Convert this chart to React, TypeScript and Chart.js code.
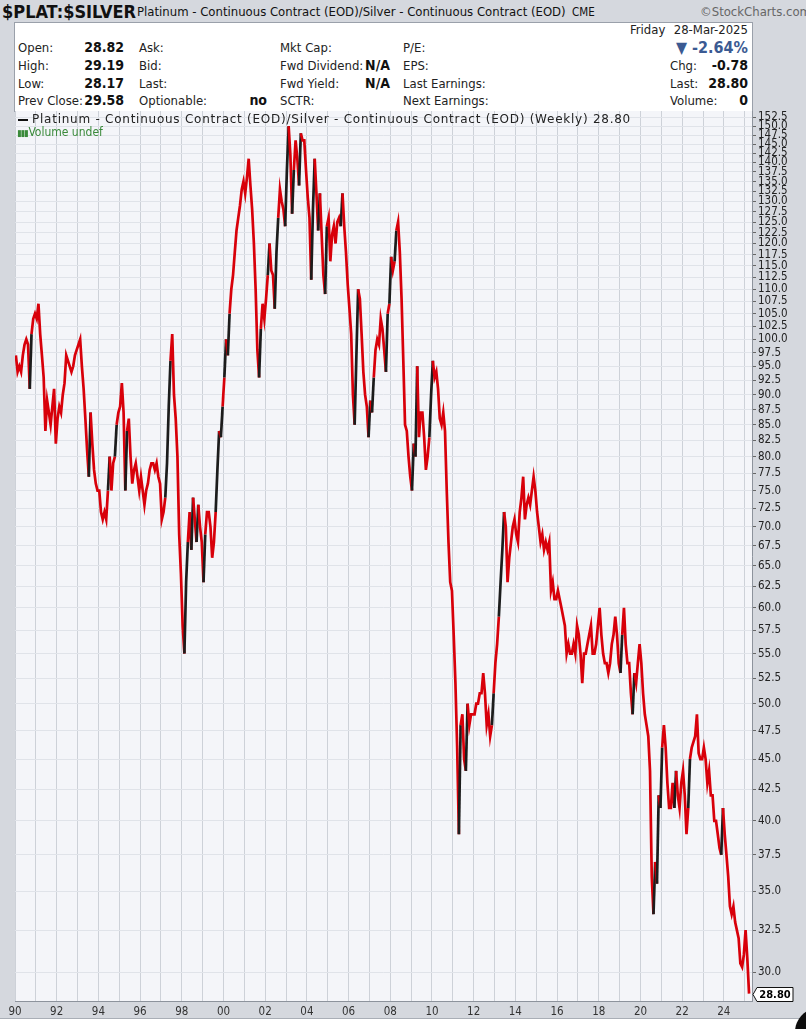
import React, { useEffect, useRef } from "react";
import { Chart, registerables } from "chart.js";

Chart.register(...registerables);

// weekly chart read off as roughly one value per month, Jan..Dec
const FIRST_YEAR = 1990;
const r1990 = [97, 94, 95, 94, 97, 99, 100, 99, 91, 101, 104, 105];
const r1991 = [104, 107, 101, 97, 93, 84, 89, 87, 85, 88, 91, 82];
const r1992 = [86, 88, 87, 90, 92, 97, 96, 95, 94, 95, 97, 98];
const r1993 = [99, 100, 95, 91, 86, 81, 77, 87, 82, 78, 76, 75];
const r1994 = [75, 72, 71, 72, 71, 75, 80, 75, 79, 80, 85, 87];
const r1995 = [88, 92, 87, 75, 84, 86, 80, 76, 78, 79, 77, 75];
const r1996 = [77, 75, 73, 75, 76, 78, 79, 79, 78, 79, 77, 76];
const r1997 = [71, 72, 74, 79, 88, 96, 101, 90, 86, 80, 69, 64];
const r1998 = [58, 55, 63, 68, 72, 67, 74, 71, 68, 73, 70, 68];
const r1999 = [63, 69, 72, 72, 70, 66, 68, 72, 78, 84, 83, 88];
const r2000 = [93, 100, 97, 105, 110, 113, 118, 123, 126, 129, 133, 135];
const r2001 = [132, 136, 141, 134, 128, 120, 110, 98, 93, 102, 107, 104];
const r2002 = [108, 113, 120, 114, 113, 106, 118, 126, 133, 130, 128, 124];
const r2003 = [138, 150, 142, 127, 138, 146, 141, 134, 148, 146, 146, 138];
const r2004 = [131, 126, 112, 128, 141, 132, 123, 132, 122, 113, 109, 124];
const r2005 = [126, 116, 122, 124, 120, 125, 126, 124, 132, 124, 118, 111];
const r2006 = [106, 101, 90, 85, 97, 110, 108, 101, 94, 90, 88, 83];
const r2007 = [89, 87, 93, 98, 100, 99, 104, 102, 98, 94, 105, 107];
const r2008 = [117, 114, 116, 123, 125, 118, 108, 96, 85, 84, 80, 77];
const r2009 = [75, 82, 80, 95, 83, 87, 87, 83, 78, 80, 83, 90];
const r2010 = [96, 93, 94, 91, 86, 85, 87, 84, 75, 68, 63, 62];
const r2011 = [57, 52, 46, 39, 48, 49, 45, 44, 50, 48, 49, 49];
const r2012 = [49, 50, 50, 51, 51, 53, 51, 48, 49, 47, 48, 51];
const r2013 = [54, 56, 59, 63, 67, 72, 70, 63, 66, 68, 70, 71];
const r2014 = [69, 68, 72, 74, 77, 71, 73, 74, 73, 75, 77, 75];
const r2015 = [72, 70, 68, 69, 67, 68, 67, 68, 62, 63, 61, 61];
const r2016 = [62, 61, 60, 59, 58, 55, 56, 55, 55, 56, 55, 58];
const r2017 = [57, 55, 52, 55, 55, 56, 57, 58, 55, 55, 56, 58];
const r2018 = [60, 57, 55, 54, 54, 53, 54, 56, 57, 59, 57, 54];
const r2019 = [53, 57, 60, 56, 54, 54, 51, 49, 53, 52, 54, 56];
const r2020 = [54, 51, 49, 48, 47, 44, 36, 33.5, 37, 35.5, 42, 41];
const r2021 = [46, 48, 46, 43, 41, 41, 43, 41, 44, 42, 41, 43];
const r2022 = [44, 42, 39, 41, 45, 46, 46.5, 47, 49, 45.5, 45, 45];
const r2023 = [46, 45, 43, 44, 42, 42, 40, 40, 39, 38, 37.5, 41];
const r2024 = [39, 37.5, 36, 34, 33.5, 34, 33, 32.5, 32, 30.5, 30.3, 31];
const r2025 = [32.5, 30.8, 28.8];

const ratioByYear = [
  r1990, r1991, r1992, r1993, r1994, r1995, r1996, r1997, r1998, r1999,
  r2000, r2001, r2002, r2003, r2004, r2005, r2006, r2007, r2008, r2009,
  r2010, r2011, r2012, r2013, r2014, r2015, r2016, r2017, r2018, r2019,
  r2020, r2021, r2022, r2023, r2024, r2025,
];

const priceTicks = [
  30, 32.5, 35, 37.5, 40, 42.5, 45, 47.5, 50, 52.5, 55, 57.5, 60, 62.5, 65,
  67.5, 70, 72.5, 75, 77.5, 80, 82.5, 85, 87.5, 90, 92.5, 95, 97.5, 100,
  102.5, 105, 107.5, 110, 112.5, 115, 117.5, 120, 122.5, 125, 127.5, 130,
  132.5, 135, 137.5, 140, 142.5, 145, 147.5, 150, 152.5,
];
const yearLabels = [
  "90", "92", "94", "96", "98", "00", "02", "04", "06", "08",
  "10", "12", "14", "16", "18", "20", "22", "24",
];
const lastClose = 28.8;

const X_MIN = 1990;
const X_MAX = 2025.35;
const Y_MIN = 28.4;
const Y_MAX = 154.4;

const RED = "#d8000a";
const NARROW = '"Liberation Sans Narrow", "Arial Narrow", "DejaVu Sans Condensed", "Liberation Sans", sans-serif';
const WIDE = '"DejaVu Sans", Verdana, sans-serif';

const plotBg = {
  id: "plotBg",
  beforeDraw(chart: any) {
    const { ctx, chartArea: a } = chart;
    ctx.save();
    ctx.fillStyle = "#f4f5f9";
    ctx.fillRect(a.left, a.top, a.right - a.left, a.bottom - a.top);
    ctx.restore();
  },
};

// little white price flag on the right axis
const lastTag = {
  id: "lastTag",
  afterDraw(chart: any) {
    const { ctx } = chart;
    const ys = chart.scales.y;
    const y = Math.round(ys.getPixelForValue(lastClose)) + 0.5;
    const x0 = ys.left + 5;
    const x1 = x0 + 36;
    ctx.save();
    ctx.beginPath();
    ctx.moveTo(x0 - 4, y);
    ctx.lineTo(x0, y - 7);
    ctx.lineTo(x1, y - 7);
    ctx.lineTo(x1, y + 7);
    ctx.lineTo(x0, y + 7);
    ctx.closePath();
    ctx.fillStyle = "#fff";
    ctx.fill();
    ctx.strokeStyle = "#111";
    ctx.lineWidth = 1;
    ctx.stroke();
    ctx.fillStyle = "#000";
    ctx.font = `bold 11px ${NARROW}`;
    ctx.textAlign = "center";
    ctx.textBaseline = "middle";
    ctx.fillText(lastClose.toFixed(2), (x0 + x1) / 2, y + 0.5);
    ctx.restore();
  },
};

function RatioChart() {
  const chartRef = useRef<HTMLCanvasElement>(null);

  useEffect(() => {
    const ctx = chartRef.current?.getContext("2d");
    if (!ctx) return;

    const points = ratioByYear.flatMap((vals, i) =>
      vals.map((v, m) => ({ x: FIRST_YEAR + i + (m + 0.5) / 12, y: v }))
    );
    const years: number[] = [];
    for (let yr = FIRST_YEAR; yr <= Math.floor(X_MAX); yr++) years.push(yr);

    const chart = new Chart(ctx, {
      type: "line",
      data: {
        datasets: [
          {
            data: points,
            borderColor: RED,
            borderWidth: 2.7,
            pointRadius: 0,
            tension: 0,
            segment: {
              borderColor: (c: any) =>
                c.p1.parsed.y > c.p0.parsed.y * 1.06 ? "#1c1c1c" : RED,
            },
          },
        ],
      },
      options: {
        responsive: false,
        animation: false,
        events: [],
        layout: { padding: { left: 15, top: 111, right: 0, bottom: 0 } },
        plugins: { legend: { display: false }, tooltip: { enabled: false } },
        scales: {
          x: {
            type: "linear",
            min: X_MIN,
            max: X_MAX,
            afterBuildTicks: (s: any) => {
              s.ticks = years.map((v) => ({ value: v }));
            },
            afterFit: (s: any) => {
              s.height = 28;
            },
            grid: { color: "#cdd1d8", drawTicks: false },
            border: { color: "#8d939c" },
            ticks: {
              autoSkip: false,
              maxRotation: 0,
              padding: 4,
              color: "#333",
              font: { family: NARROW, size: 11.5 },
              callback: (v: any) => {
                const yr = Math.round(Number(v));
                if ((yr - FIRST_YEAR) % 2 !== 0) return "";
                return yearLabels[(yr - FIRST_YEAR) / 2] ?? "";
              },
            },
          },
          y: {
            type: "logarithmic",
            position: "right",
            min: Y_MIN,
            max: Y_MAX,
            afterBuildTicks: (s: any) => {
              s.ticks = priceTicks.map((v) => ({ value: v }));
            },
            afterFit: (s: any) => {
              s.width = 54;
            },
            grid: { color: "#e0e3e9", tickColor: "#666", tickLength: 4 },
            border: { color: "#8d939c" },
            ticks: {
              autoSkip: false,
              padding: 2,
              color: "#222",
              font: { family: NARROW, size: 11.5 },
              callback: (v: any) => Number(v).toFixed(1),
            },
          },
        },
      },
      plugins: [plotBg, lastTag],
    });

    return () => chart.destroy();
  }, []);

  return (
    <canvas
      ref={chartRef}
      width={806}
      height={1029}
      style={{ position: "absolute", left: 0, top: 0 }}
    />
  );
}

const abs = (left: number, top: number, extra: any = {}) => ({
  position: "absolute" as const,
  left,
  top,
  whiteSpace: "nowrap" as const,
  ...extra,
});

function Lbl({ x, y, children }: any) {
  return <div style={abs(x, y, { fontSize: 13, color: "#222" })}>{children}</div>;
}

function Val({ right, y, children, size = 14 }: any) {
  return (
    <div
      style={{
        position: "absolute",
        right: 806 - right,
        top: y - 1,
        fontSize: size,
        fontWeight: "bold",
        color: "#111",
        whiteSpace: "nowrap",
      }}
    >
      {children}
    </div>
  );
}

export default function App() {
  useEffect(() => {
    document.body.style.margin = "0";
  }, []);

  const rows = [40, 58, 76, 93];

  return (
    <div
      style={{
        position: "relative",
        width: 806,
        height: 1029,
        overflow: "hidden",
        background: "#d5d8de",
        fontFamily: NARROW,
      }}
    >
      {/* title strip */}
      <div style={abs(2, 1, { fontSize: 18, fontWeight: "bold", color: "#111" })}>$PLAT:$SILVER</div>
      <div style={abs(137, 4, { fontSize: 13, color: "#111" })}>
        Platinum - Continuous Contract (EOD)/Silver - Continuous Contract (EOD)
      </div>
      <div style={abs(572, 5, { fontSize: 11.5, color: "#111" })}>CME</div>
      <div style={abs(700, 4, { fontSize: 13, color: "#666" })}>©StockCharts.com</div>

      {/* info box */}
      <div
        style={{
          position: "absolute",
          left: 14,
          top: 22,
          width: 737,
          height: 88,
          background: "#fff",
          border: "1px solid #9aa0aa",
        }}
      />
      <div style={abs(630, 22, { fontSize: 13, color: "#222" })}>Friday</div>
      <Val right={748} y={23} size={13}>
        <span style={{ fontWeight: "normal", color: "#222" }}>28-Mar-2025</span>
      </Val>

      <Lbl x={18} y={rows[0]}>Open:</Lbl>
      <Lbl x={18} y={rows[1]}>High:</Lbl>
      <Lbl x={18} y={rows[2]}>Low:</Lbl>
      <Lbl x={18} y={rows[3]}>Prev Close:</Lbl>
      <Val right={124} y={rows[0]}>28.82</Val>
      <Val right={124} y={rows[1]}>29.19</Val>
      <Val right={124} y={rows[2]}>28.17</Val>
      <Val right={124} y={rows[3]}>29.58</Val>

      <Lbl x={139} y={rows[0]}>Ask:</Lbl>
      <Lbl x={139} y={rows[1]}>Bid:</Lbl>
      <Lbl x={139} y={rows[2]}>Last:</Lbl>
      <Lbl x={139} y={rows[3]}>Optionable:</Lbl>
      <Val right={267} y={rows[3]}>no</Val>

      <Lbl x={280} y={rows[0]}>Mkt Cap:</Lbl>
      <Lbl x={280} y={rows[1]}>Fwd Dividend:</Lbl>
      <Lbl x={280} y={rows[2]}>Fwd Yield:</Lbl>
      <Lbl x={280} y={rows[3]}>SCTR:</Lbl>
      <Val right={390} y={rows[1]}>N/A</Val>
      <Val right={390} y={rows[2]}>N/A</Val>

      <Lbl x={403} y={rows[0]}>P/E:</Lbl>
      <Lbl x={403} y={rows[1]}>EPS:</Lbl>
      <Lbl x={403} y={rows[2]}>Last Earnings:</Lbl>
      <Lbl x={403} y={rows[3]}>Next Earnings:</Lbl>

      <Val right={748} y={rows[0] - 1} size={16}>
        <span style={{ color: "#3b5a92" }}>▼ -2.64%</span>
      </Val>
      <Lbl x={670} y={rows[1]}>Chg:</Lbl>
      <Lbl x={670} y={rows[2]}>Last:</Lbl>
      <Lbl x={670} y={rows[3]}>Volume:</Lbl>
      <Val right={748} y={rows[1]}>-0.78</Val>
      <Val right={748} y={rows[2]}>28.80</Val>
      <Val right={748} y={rows[3]}>0</Val>

      {/* white strip under the date axis */}
      <div
        style={{
          position: "absolute",
          left: 0,
          top: 1018,
          width: 806,
          height: 11,
          background: "#fff",
          borderTop: "1px solid #a9aeb6",
        }}
      />
      <div
        style={{
          position: "absolute",
          left: 795,
          top: 1008,
          width: 48,
          height: 48,
          borderRadius: "50%",
          background: "#0c0c0c",
        }}
      />

      <RatioChart />

      {/* in-chart legend */}
      <div style={abs(18, 112, { fontFamily: WIDE, fontSize: 12, letterSpacing: 0.75, color: "#222" })}>
        <span style={{ display: "inline-block", width: 10, height: 2, background: "#111", verticalAlign: "middle", marginRight: 4 }} />
        Platinum - Continuous Contract (EOD)/Silver - Continuous Contract (EOD) (Weekly) 28.80
      </div>
      <div style={abs(17, 125, { fontSize: 12, color: "#3a8a3a" })}>
        <span style={{ fontSize: 9, letterSpacing: -1, marginRight: 1 }}>▮▮▮</span>Volume undef
      </div>
    </div>
  );
}
